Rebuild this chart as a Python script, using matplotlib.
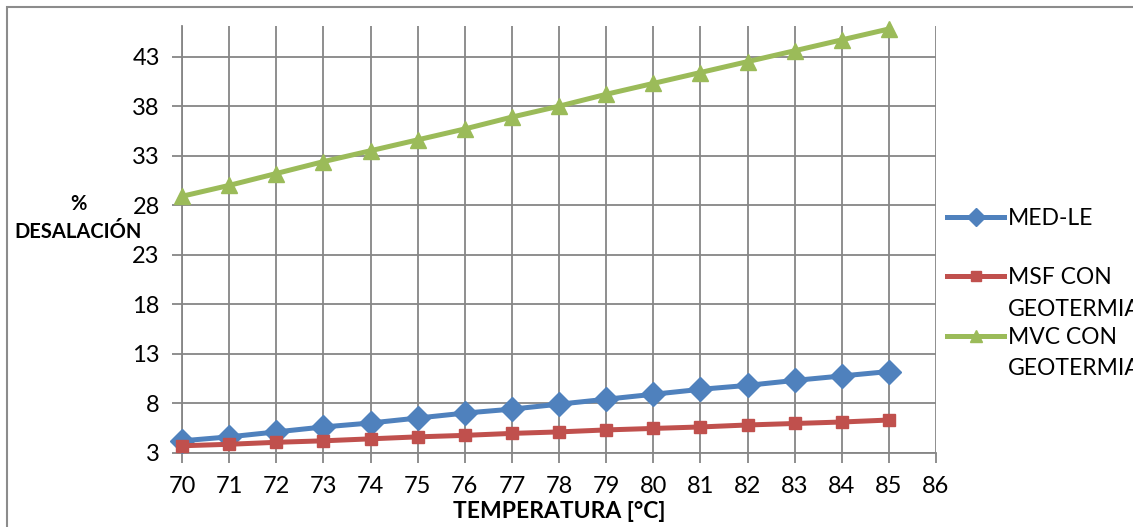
import matplotlib.pyplot as plt
from matplotlib.patches import Rectangle

plt.rcParams['font.family'] = ['Lato', 'DejaVu Sans']

temps = [70, 71, 72, 73, 74, 75, 76, 77, 78, 79, 80, 81, 82, 83, 84, 85]
med_le = [4.2, 4.6, 5.1, 5.6, 6.0, 6.5, 7.0, 7.4, 7.9, 8.4, 8.9, 9.4, 9.8, 10.3, 10.75, 11.2]
msf_geo = [3.7, 3.85, 4.05, 4.2, 4.4, 4.6, 4.75, 4.95, 5.1, 5.3, 5.45, 5.6, 5.8, 5.95, 6.1, 6.3]
mvc_geo = [28.9, 30.0, 31.2, 32.4, 33.5, 34.6, 35.7, 36.9, 38.0, 39.2, 40.3, 41.4, 42.5, 43.6, 44.7, 45.8]

# legend labels: first line goes next to the handle, second line below it
labels_first = ['MED-LE', 'MSF CON', 'MVC CON']
labels_second = ['', 'GEOTERMIA', 'GEOTERMIA']

xticks = list(range(70, 87))
yticks = list(range(3, 44, 5))

grid_c = '#868686'
W, H = 1133, 527

fig = plt.figure(figsize=(W / 100, H / 100), dpi=100)
ax = fig.add_axes([182/W, 1 - 452.7/H, (936-182)/W, (452.7-26)/H])

# outer chart border
fig.patches.append(Rectangle((7/W, -0.1), 1.2, 1.1 - 7/H, transform=fig.transFigure,
                             fill=False, edgecolor='#8c8c8c', linewidth=1.5))

ax.plot(temps, med_le, color='#4F81BD', lw=3.6, marker='D', ms=12, label=labels_first[0], clip_on=False, zorder=5)
ax.plot(temps, msf_geo, color='#C0504D', lw=3.6, marker='s', ms=9, label=labels_first[1], clip_on=False, zorder=5)
ax.plot(temps, mvc_geo, color='#9BBB59', lw=3.6, marker='^', ms=12, label=labels_first[2], clip_on=False, zorder=5)

ax.set_xlim(70, 86)
ax.set_ylim(3, 46.1)
ax.set_xticks(xticks)
ax.set_yticks(yticks)
ax.grid(True, color=grid_c, lw=1.3)
ax.set_axisbelow(True)
for s in ['top', 'right']:
    ax.spines[s].set_visible(False)
for s in ['left', 'bottom']:
    ax.spines[s].set_color(grid_c)
    ax.spines[s].set_linewidth(1.3)
ax.tick_params(axis='both', direction='out', length=7, width=1.3, color=grid_c, labelsize=17)
ax.tick_params(axis='y', pad=9)
ax.tick_params(axis='x', pad=10)

ax.set_xlabel('TEMPERATURA [°C]', fontsize=16.5, fontweight='bold', labelpad=3)
fig.text(78/W, 1 - 218/H, '%\nDESALACIÓN', ha='center', va='center', fontsize=14.5,
         fontweight='bold', linespacing=1.55)

leg = fig.legend(loc='center left', bbox_to_anchor=(938/W, 1 - 278/H), frameon=False,
                 fontsize=16.5, handlelength=2.5, handletextpad=0.15, labelspacing=1.68,
                 borderaxespad=0, markerscale=0.75)

# second line of the wrapped legend labels, placed under each first line
fig.canvas.draw()
inv = fig.transFigure.inverted()
for txt, extra in zip(leg.get_texts(), labels_second):
    if not extra:
        continue
    bb = txt.get_window_extent()
    x0, y0 = inv.transform((bb.x0, bb.y0 - 31 + bb.height / 2))
    fig.text(x0, y0, extra, ha='left', va='center', fontsize=16.5)

fig.savefig('out.png', dpi=100)
